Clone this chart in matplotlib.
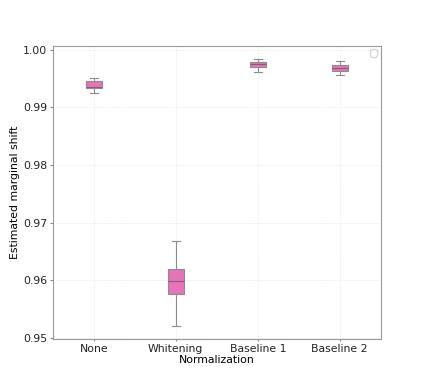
import matplotlib
matplotlib.use("Agg")
import matplotlib.pyplot as plt

# box statistics
methods = ["None", "Whitening", "Baseline 1", "Baseline 2"]
whis_low = [0.9925, 0.9521, 0.9962, 0.9956]
q1 = [0.9934, 0.9576, 0.9971, 0.9964]
median = [0.9936, 0.9598, 0.9975, 0.9969]
q3 = [0.9946, 0.9620, 0.9979, 0.9974]
whis_high = [0.9951, 0.9669, 0.9984, 0.9980]

stats = []
for i in range(len(methods)):
    stats.append(dict(label=methods[i], whislo=whis_low[i], q1=q1[i], med=median[i],
                      q3=q3[i], whishi=whis_high[i], fliers=[]))

plt.rcParams["font.size"] = 7.8
fig, ax = plt.subplots(figsize=(4.23, 3.81), dpi=100)
ax.bxp(stats, widths=0.2, patch_artist=True, showfliers=False,
       boxprops=dict(facecolor="#e574b8", edgecolor="#8c8c8c", linewidth=0.8),
       medianprops=dict(color="#8c5a7a", linewidth=0.8),
       whiskerprops=dict(color="#8c8c8c", linewidth=0.8),
       capprops=dict(color="#8c8c8c", linewidth=0.8))

ax.grid(True, linestyle=":", color="#e6e6e6", linewidth=0.7)
ax.set_axisbelow(True)
for s in ax.spines.values():
    s.set_color("#999999")
ax.tick_params(axis="y", colors="#888888", labelcolor="#222222", length=2, pad=2)
ax.tick_params(axis="x", colors="#888888", labelcolor="#222222", length=1.5, pad=2)
ax.set_xlabel("Normalization", labelpad=1)
ax.set_ylabel("Estimated marginal shift", labelpad=2)
leg = ax.legend(handles=[], loc="upper right", borderpad=0.35, framealpha=0.6,
                borderaxespad=0.3)
leg.get_frame().set_edgecolor("#bbbbbb")
fig.savefig("out.png")
